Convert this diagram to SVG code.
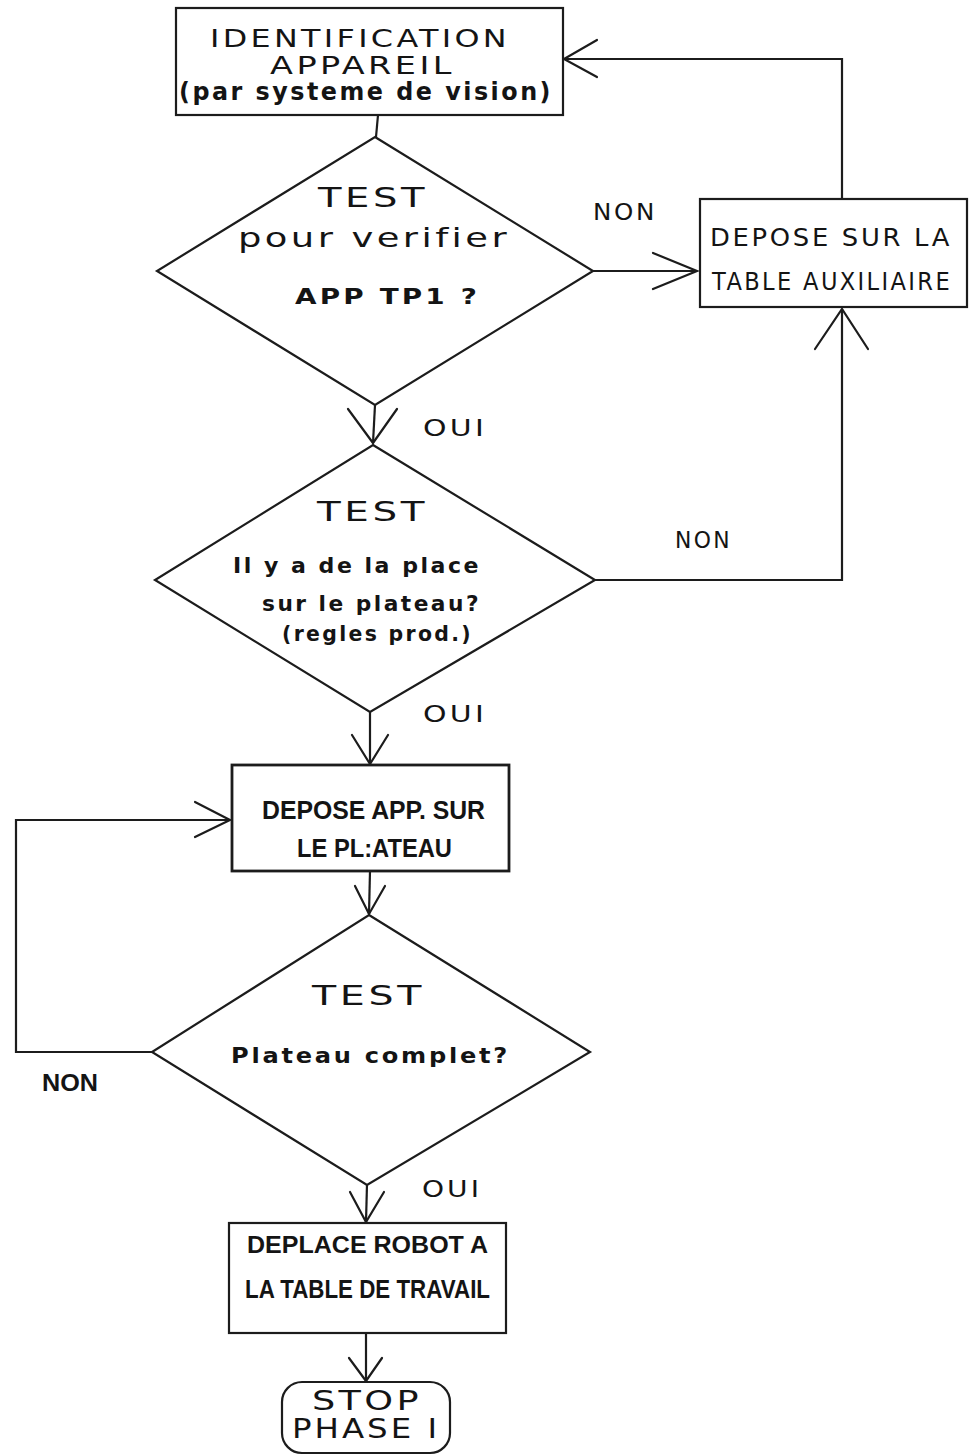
<svg xmlns="http://www.w3.org/2000/svg" width="969" height="1456" viewBox="0 0 969 1456">
  <style>
    .shape { fill: #ffffff; stroke: #1c1c1c; stroke-width: 2.2; }
    .wire { fill: none; stroke: #1c1c1c; stroke-width: 2.2; stroke-linejoin: miter; }
    .head { fill: none; stroke: #1c1c1c; stroke-width: 2.2; stroke-linecap: round; stroke-linejoin: miter; }
    text { font-family: "DejaVu Sans", "Liberation Sans", sans-serif; fill: #141414; letter-spacing: 2.5px; }
    .geo { font-size: 24px; }
    .big { font-size: 27px; }
    .mid { font-size: 22px; }
    .bold { font-weight: bold; }
    .lbl { font-size: 23px; }
    .plot { font-family: "Liberation Sans", Arial, sans-serif; font-weight: bold; letter-spacing: 0; }
  </style>
  <rect width="969" height="1456" fill="#ffffff"/>

  <!-- connectors -->
  <g id="connectors">
    <!-- identification -> test 1 -->
    <path class="wire" d="M378,115 L376,137"/>
    <!-- test 1 NON -> table auxiliaire -->
    <path class="wire" d="M593,271 L697,271"/>
    <path class="head" d="M653,253 L697,271 L653,289"/>
    <!-- table auxiliaire -> identification -->
    <path class="wire" d="M842,199 L842,59 L563,59"/>
    <path class="head" d="M597,40 L564,59 L597,77"/>
    <!-- test 1 OUI -> test 2 -->
    <path class="wire" d="M375,405 L373,443"/>
    <path class="head" d="M348,409 L373,443 L397,409"/>
    <!-- test 2 NON -> table auxiliaire -->
    <path class="wire" d="M595,580 L842,580 L842,309"/>
    <path class="head" d="M815,349 L842,309 L868,349"/>
    <!-- test 2 OUI -> depose sur plateau -->
    <path class="wire" d="M370,712 L370,764"/>
    <path class="head" d="M352,735 L370,764 L388,735"/>
    <!-- depose sur plateau -> test 3 -->
    <path class="wire" d="M370,871 L369,914"/>
    <path class="head" d="M355,886 L369,914 L385,886"/>
    <!-- test 3 NON -> depose sur plateau -->
    <path class="wire" d="M152,1052 L16,1052 L16,820 L230,820"/>
    <path class="head" d="M195,802 L230,820 L195,837"/>
    <!-- test 3 OUI -> deplace robot -->
    <path class="wire" d="M367,1184 L366,1222"/>
    <path class="head" d="M350,1192 L366,1222 L384,1192"/>
    <!-- deplace robot -> stop -->
    <path class="wire" d="M366,1334 L366,1381"/>
    <path class="head" d="M349,1358 L366,1381 L382,1358"/>

    <text class="lbl" x="593" y="220" textLength="64" lengthAdjust="spacingAndGlyphs">NON</text>
    <text class="lbl" x="423" y="436" textLength="64" lengthAdjust="spacingAndGlyphs">OUI</text>
    <text class="lbl" x="675" y="548" textLength="57" lengthAdjust="spacingAndGlyphs">NON</text>
    <text class="lbl" x="423" y="722" textLength="64" lengthAdjust="spacingAndGlyphs">OUI</text>
    <text class="lbl plot" x="42" y="1091" textLength="56" lengthAdjust="spacingAndGlyphs">NON</text>
    <text class="lbl" x="422" y="1197" textLength="60" lengthAdjust="spacingAndGlyphs">OUI</text>
  </g>

  <!-- start: identification -->
  <g id="identification">
    <rect class="shape" x="176" y="8" width="387" height="107"/>
    <text class="geo" x="210" y="47" textLength="300" lengthAdjust="spacingAndGlyphs">IDENTIFICATION</text>
    <text class="geo" x="270" y="74" textLength="185" lengthAdjust="spacingAndGlyphs">APPAREIL</text>
    <text class="geo bold" x="179" y="100" textLength="374" lengthAdjust="spacingAndGlyphs">(par systeme de vision)</text>
  </g>

  <!-- decision 1 -->
  <g id="test-app">
    <polygon class="shape" points="375,137 593,271 375,405 157,271"/>
    <text class="big" x="318" y="207" textLength="110" lengthAdjust="spacingAndGlyphs">TEST</text>
    <text class="big" x="238" y="247" textLength="272" lengthAdjust="spacingAndGlyphs">pour verifier</text>
    <text class="mid bold" x="295" y="304" textLength="185" lengthAdjust="spacingAndGlyphs">APP  TP1 ?</text>
  </g>

  <!-- auxiliary table -->
  <g id="table-auxiliaire">
    <rect class="shape" x="700" y="199" width="267" height="108"/>
    <text class="geo" x="710" y="246" textLength="242" lengthAdjust="spacingAndGlyphs">DEPOSE SUR LA</text>
    <text class="geo" x="712" y="290" textLength="240" lengthAdjust="spacingAndGlyphs">TABLE AUXILIAIRE</text>
  </g>

  <!-- decision 2 -->
  <g id="test-place">
    <polygon class="shape" points="373,445 595,580 370,712 155,580"/>
    <text class="big" x="317" y="521" textLength="111" lengthAdjust="spacingAndGlyphs">TEST</text>
    <text class="mid bold" x="233" y="573" textLength="248" lengthAdjust="spacingAndGlyphs">Il y a de la place</text>
    <text class="mid bold" x="262" y="611" textLength="219" lengthAdjust="spacingAndGlyphs">sur le plateau?</text>
    <text class="mid bold" x="282" y="641" textLength="191" lengthAdjust="spacingAndGlyphs">(regles prod.)</text>
  </g>

  <!-- place on tray -->
  <g id="depose-plateau">
    <rect class="shape" x="232" y="765" width="277" height="106" style="stroke-width:2.8"/>
    <text class="plot" font-size="26" x="262" y="819" textLength="223" lengthAdjust="spacingAndGlyphs">DEPOSE APP. SUR</text>
    <text class="plot" font-size="26" x="297" y="857" textLength="155" lengthAdjust="spacingAndGlyphs">LE PL:ATEAU</text>
  </g>

  <!-- decision 3 -->
  <g id="test-complet">
    <polygon class="shape" points="369,915 590,1052 367,1185 152,1052"/>
    <text class="big" x="312" y="1005" textLength="113" lengthAdjust="spacingAndGlyphs">TEST</text>
    <text class="mid bold" x="231" y="1063" textLength="279" lengthAdjust="spacingAndGlyphs">Plateau complet?</text>
  </g>

  <!-- move robot -->
  <g id="deplace-robot">
    <rect class="shape" x="229" y="1223" width="277" height="110"/>
    <text class="plot" font-size="23" x="247" y="1253" textLength="241" lengthAdjust="spacingAndGlyphs">DEPLACE ROBOT A</text>
    <text class="plot" font-size="25" x="245" y="1298" textLength="245" lengthAdjust="spacingAndGlyphs">LA TABLE DE TRAVAIL</text>
  </g>

  <!-- end -->
  <g id="stop">
    <rect class="shape" x="282" y="1382" width="168" height="71" rx="20" ry="20"/>
    <text class="big" x="312" y="1410" textLength="110" lengthAdjust="spacingAndGlyphs">STOP</text>
    <text class="big" x="292" y="1438" textLength="148" lengthAdjust="spacingAndGlyphs">PHASE I</text>
  </g>
</svg>
